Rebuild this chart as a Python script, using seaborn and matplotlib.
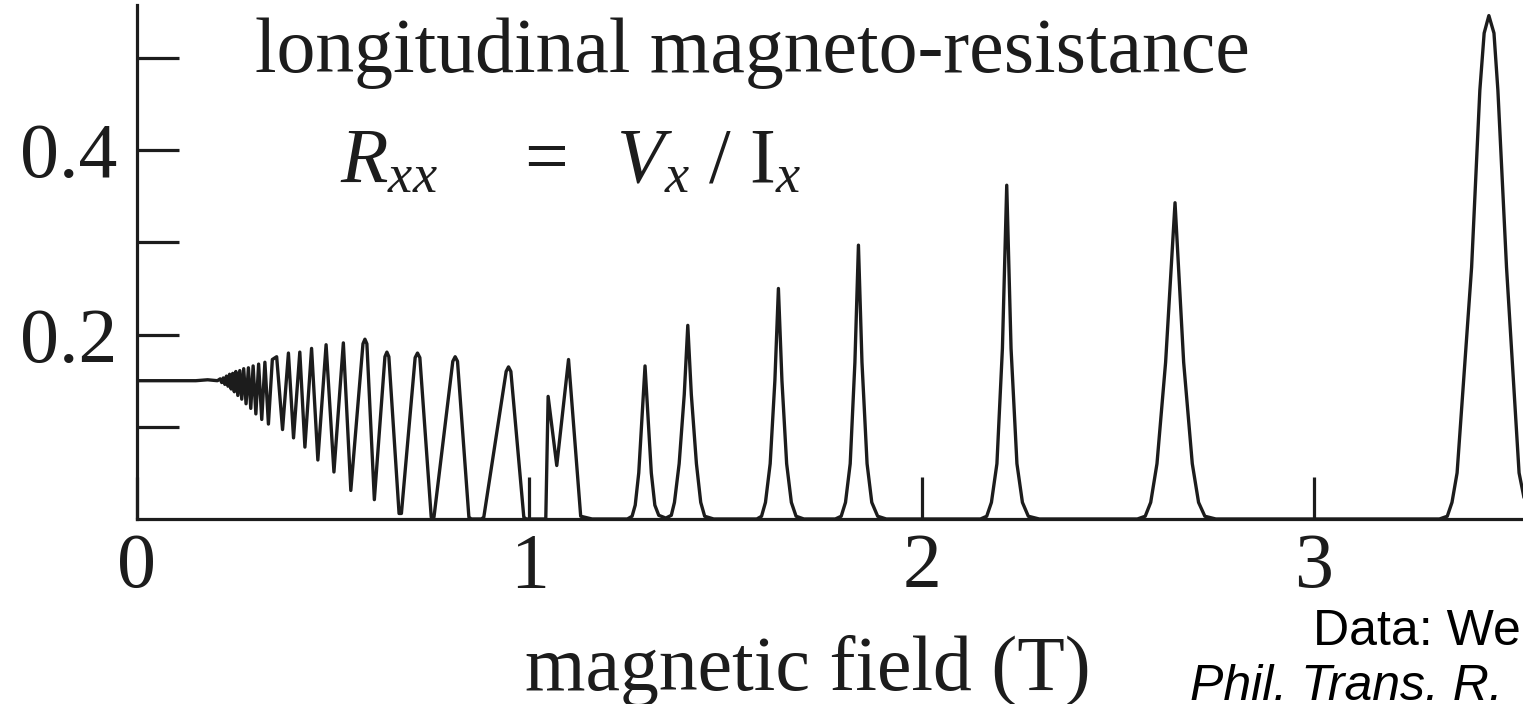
import matplotlib
matplotlib.use("Agg")
import matplotlib.pyplot as plt
import seaborn as sns
import pandas as pd

# ---- data ----
# low-field Shubnikov-de Haas oscillations (field in T, Rxx)
field_low = [0.000, 0.150, 0.180, 0.205, 0.212, 0.216, 0.220, 0.224, 0.228, 0.232,
             0.236, 0.240, 0.244, 0.248, 0.252, 0.257, 0.262, 0.267, 0.272, 0.278,
             0.284, 0.290, 0.296, 0.303, 0.310, 0.318, 0.326, 0.335, 0.345, 0.356,
             0.371, 0.386, 0.399, 0.415, 0.428, 0.445, 0.461, 0.482, 0.502, 0.526,
             0.545, 0.576, 0.581, 0.586, 0.605, 0.632, 0.637, 0.642, 0.668, 0.674,
             0.709, 0.715, 0.721, 0.750, 0.757, 0.805, 0.811, 0.817, 0.846, 0.852,
             0.878, 0.884, 0.941, 0.947, 0.953, 0.986, 0.992, 1.042, 1.048, 1.070,
             1.100, 1.131, 1.160, 1.166]
rxx_low = [0.150, 0.150, 0.151, 0.150, 0.152, 0.148, 0.153, 0.146, 0.155, 0.144,
           0.157, 0.141, 0.158, 0.138, 0.160, 0.134, 0.161, 0.130, 0.163, 0.125,
           0.164, 0.120, 0.166, 0.114, 0.168, 0.108, 0.170, 0.103, 0.173, 0.176,
           0.097, 0.180, 0.088, 0.181, 0.078, 0.185, 0.064, 0.189, 0.051, 0.191,
           0.031, 0.190, 0.195, 0.190, 0.021, 0.176, 0.181, 0.176, 0.006, 0.006,
           0.175, 0.180, 0.175, 0.002, 0.002, 0.171, 0.176, 0.171, 0.002, 0.000,
           0.000, 0.002, 0.160, 0.165, 0.160, 0.002, 0.000, 0.000, 0.133, 0.058,
           0.173, 0.003, 0.000, 0.000]

# quantum Hall regime peaks
field_qh = [1.250, 1.262, 1.270, 1.279, 1.288, 1.295, 1.302, 1.311, 1.320, 1.330, 1.348,
            1.362, 1.370, 1.382, 1.395, 1.404, 1.413, 1.426, 1.437, 1.447, 1.470,
            1.580, 1.592, 1.602, 1.614, 1.626, 1.635, 1.644, 1.656, 1.668, 1.680, 1.700,
            1.780, 1.795, 1.806, 1.818, 1.830, 1.839, 1.848, 1.861, 1.873, 1.888, 1.910,
            2.150, 2.166, 2.178, 2.192, 2.206, 2.217, 2.228, 2.243, 2.257, 2.272, 2.300,
            2.550, 2.570, 2.584, 2.600, 2.622, 2.646, 2.668, 2.690, 2.706, 2.722, 2.750,
            3.320, 3.340, 3.352, 3.365, 3.402, 3.423, 3.434, 3.446, 3.459, 3.469,
            3.491, 3.523, 3.538, 3.550, 3.600]
rxx_qh = [0.000, 0.003, 0.015, 0.050, 0.115, 0.166, 0.115, 0.050, 0.015, 0.004, 0.001,
          0.004, 0.018, 0.060, 0.135, 0.210, 0.135, 0.060, 0.018, 0.003, 0.000,
          0.000, 0.003, 0.018, 0.060, 0.150, 0.250, 0.150, 0.060, 0.018, 0.003, 0.000,
          0.000, 0.003, 0.018, 0.060, 0.170, 0.297, 0.170, 0.060, 0.018, 0.003, 0.000,
          0.000, 0.003, 0.018, 0.060, 0.185, 0.362, 0.185, 0.060, 0.018, 0.003, 0.000,
          0.000, 0.003, 0.018, 0.060, 0.170, 0.343, 0.170, 0.060, 0.018, 0.003, 0.000,
          0.000, 0.003, 0.018, 0.050, 0.273, 0.465, 0.527, 0.546, 0.527, 0.465,
          0.273, 0.050, 0.018, 0.003, 0.000]

x_ticks = [0, 1, 2, 3]
x_tick_labels = ["0", "1", "2", "3"]
y_major = [0.2, 0.4]
y_major_labels = ["0.2", "0.4"]
y_minor = [0.1, 0.3, 0.5]

df = pd.DataFrame({"field": field_low + field_qh, "rxx": rxx_low + rxx_qh})

# ---- style ----
sns.set_style("ticks")
plt.rcParams["font.family"] = ["Liberation Serif", "DejaVu Serif"]
plt.rcParams["mathtext.fontset"] = "custom"
plt.rcParams["mathtext.rm"] = "Liberation Serif"
plt.rcParams["mathtext.it"] = "Liberation Serif:italic"

W, H = 1523, 704
fig = plt.figure(figsize=(W / 100, H / 100), dpi=100)
fig.patch.set_facecolor("white")

px_per_T = 392.3
x_max = 3.6
left_px, base_px, top_px = 137, 519, 5
ax = fig.add_axes([left_px / W, (H - base_px) / H, x_max * px_per_T / W, (base_px - top_px) / H])

ink = "#1c1c1c"
sns.lineplot(data=df, x="field", y="rxx", ax=ax, color=ink, linewidth=2.4,
             estimator=None, sort=False)

ax.set_xlim(0, x_max)
ax.set_ylim(0, (base_px - top_px) / 922.0)

sns.despine(ax=ax)
for s in ["left", "bottom"]:
    ax.spines[s].set_linewidth(2.3)
    ax.spines[s].set_color(ink)

ax.set_xticks(x_ticks)
ax.set_xticklabels(x_tick_labels)
ax.set_yticks(y_major)
ax.set_yticklabels(y_major_labels)
ax.set_yticks(y_minor, minor=True)
ax.tick_params(axis="both", which="both", direction="in", length=30, width=2.3,
               color=ink, labelsize=56, labelcolor=ink)
ax.tick_params(axis="y", which="both", pad=14)
ax.tick_params(axis="x", which="both", pad=10)

ax.set_xlabel("magnetic field (T)", fontsize=56, color=ink)
ax.xaxis.set_label_coords((808 - left_px) / (x_max * px_per_T), -0.225)
ax.set_ylabel("")

fig.text(255 / W, 1 - 72 / H, "longitudinal magneto-resistance", fontsize=56,
         color=ink, va="baseline", ha="left")
fig.text(340 / W, 1 - 182 / H, r"$R_{xx}\ \ \ \ =\ \ V_x\ /\ \mathrm{I}_x$", fontsize=56,
         color=ink, va="baseline", ha="left")

fig.text(1313 / W, 1 - 645 / H, "Data: We", fontsize=36,
         family=["Liberation Sans", "DejaVu Sans"], color="black", va="baseline", ha="left")
fig.text(1190 / W, 1 - 700 / H, "Phil. Trans. R.", fontsize=36,
         family=["Liberation Sans", "DejaVu Sans"], style="italic", color="black",
         va="baseline", ha="left")

fig.savefig("out.png", dpi=100, facecolor="white")
